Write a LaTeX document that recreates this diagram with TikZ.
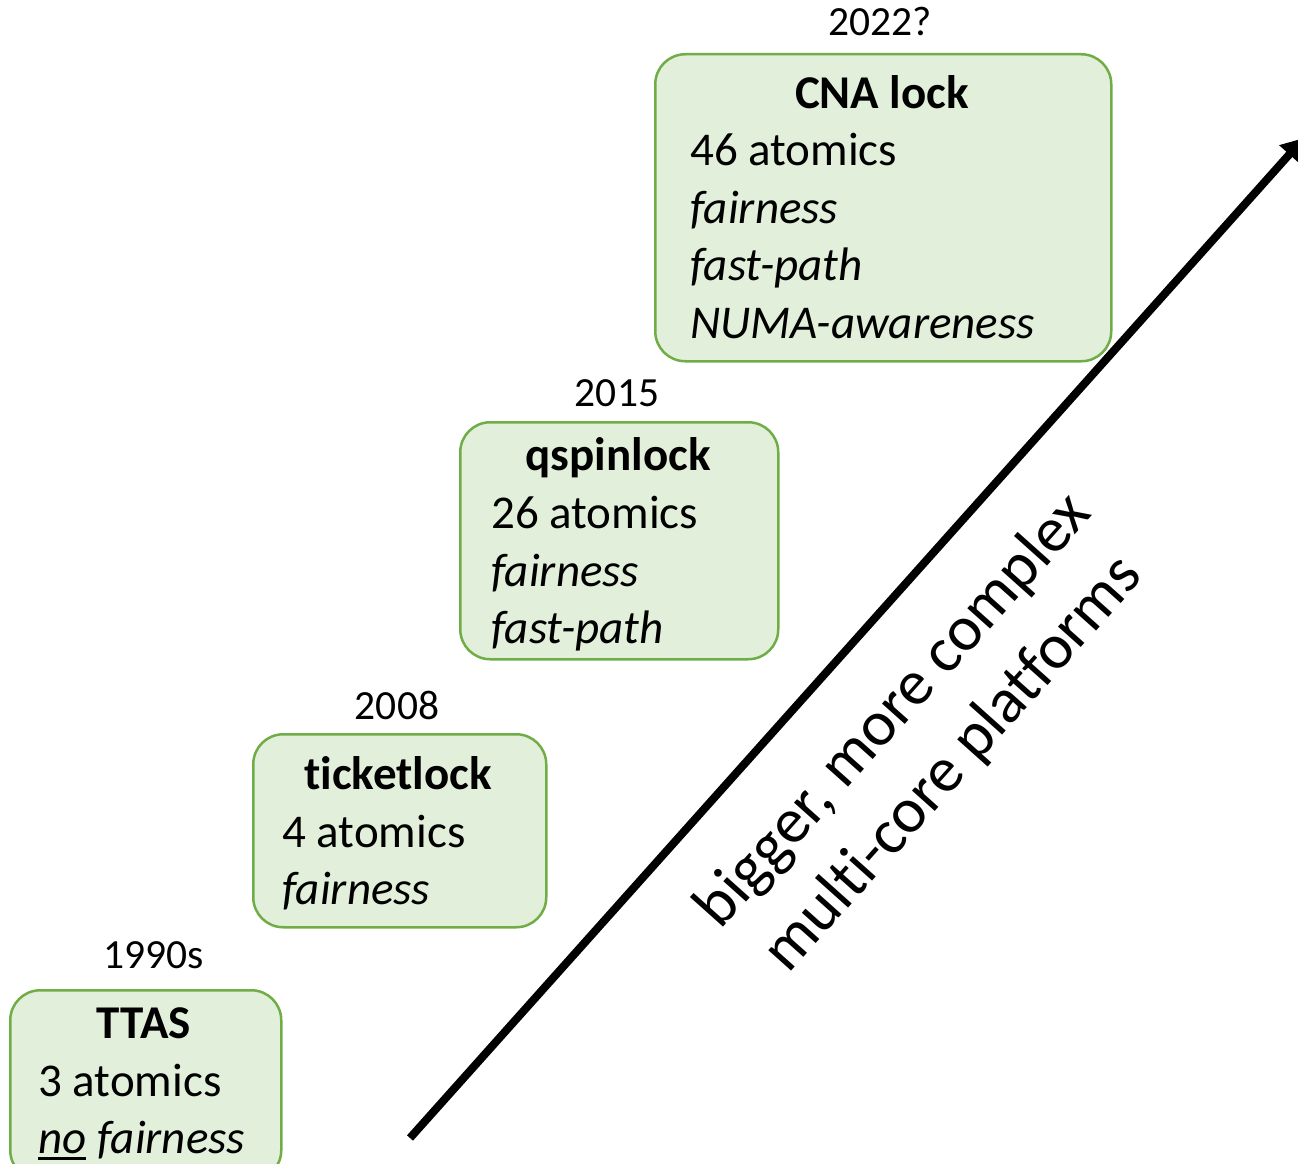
\documentclass[tikz,border=0pt]{standalone}
\usepackage{fontspec}
\setmainfont{Carlito}[Ligatures={NoCommon}]
\usetikzlibrary{arrows.meta}
\definecolor{boxfill}{HTML}{E2EFDA}
\definecolor{boxline}{HTML}{70AD47}
% heavier underline than the default one
\newcommand{\thickul}[1]{\setbox0\hbox{#1}\rlap{\rule[-7pt]{\wd0}{3pt}}\box0\relax}
\begin{document}
\begin{tikzpicture}[x=1pt,y=-1pt,
  lockbox/.style={draw=boxline, fill=boxfill, line width=2.5pt, rounded corners=30pt, inner sep=0pt, anchor=north west},
  title/.style={font=\fontsize{47}{56}\selectfont\bfseries, anchor=base, inner sep=0pt},
  feat/.style={font=\fontsize{47}{56}\selectfont, anchor=base west, inner sep=0pt},
  year/.style={font=\fontsize{41.5}{48}\selectfont, anchor=base, inner sep=0pt}]
\clip (0,0) rectangle (1298,1164);
\useasboundingbox (0,0) rectangle (1298,1164);

% growth arrow
\coordinate (arrowtail) at (410,1138);
\coordinate (arrowhead) at (1304,138);
\draw[line width=8pt, -{Triangle[length=22pt,width=26pt]}] (arrowtail) -- (arrowhead);
\node[font=\fontsize{64}{80}\selectfont, align=center, rotate=48.2] (trend) at (924,738)
  {bigger, more complex\\multi-core platforms};

% TTAS
\node[lockbox, minimum width=271pt, minimum height=190pt] (ttas) at (9,989) {};
\node[year] (y1) at (154,968) {1990s};
\node[title] (t1) at (144,1038) {TTAS};
\node[feat] (a1) at (38,1096) {3 atomics};
\node[feat] (f1) at (38,1153) {\itshape\thickul{no} fairness};

% ticketlock
\node[lockbox, minimum width=293pt, minimum height=193pt] (ticket) at (252,733) {};
\node[year] (y2) at (397,719) {2008};
\node[title] (t2) at (398,789) {ticketlock};
\node[feat] (a2) at (282,847) {4 atomics};
\node[feat] (f2) at (282,904) {\itshape fairness};

% qspinlock
\node[lockbox, minimum width=318pt, minimum height=237pt] (qspin) at (459,421) {};
\node[year] (y3) at (617,406) {2015};
\node[title] (t3) at (618,470) {qspinlock};
\node[feat] (a3) at (491,528) {26 atomics};
\node[feat] (f3) at (491,586) {\itshape fairness};
\node[feat] (p3) at (491,643) {\itshape fast-path};

% CNA lock
\node[lockbox, minimum width=456pt, minimum height=307pt] (cna) at (654,53) {};
\node[year] (y4) at (880,36) {2022?};
\node[title] (t4) at (882,108) {CNA lock};
\node[feat] (a4) at (690,165) {46 atomics};
\node[feat] (f4) at (690,223) {\itshape fairness};
\node[feat] (p4) at (690,280) {\itshape fast-path};
\node[feat] (n4) at (690,338) {\itshape NUMA-awareness};
\end{tikzpicture}
\end{document}
